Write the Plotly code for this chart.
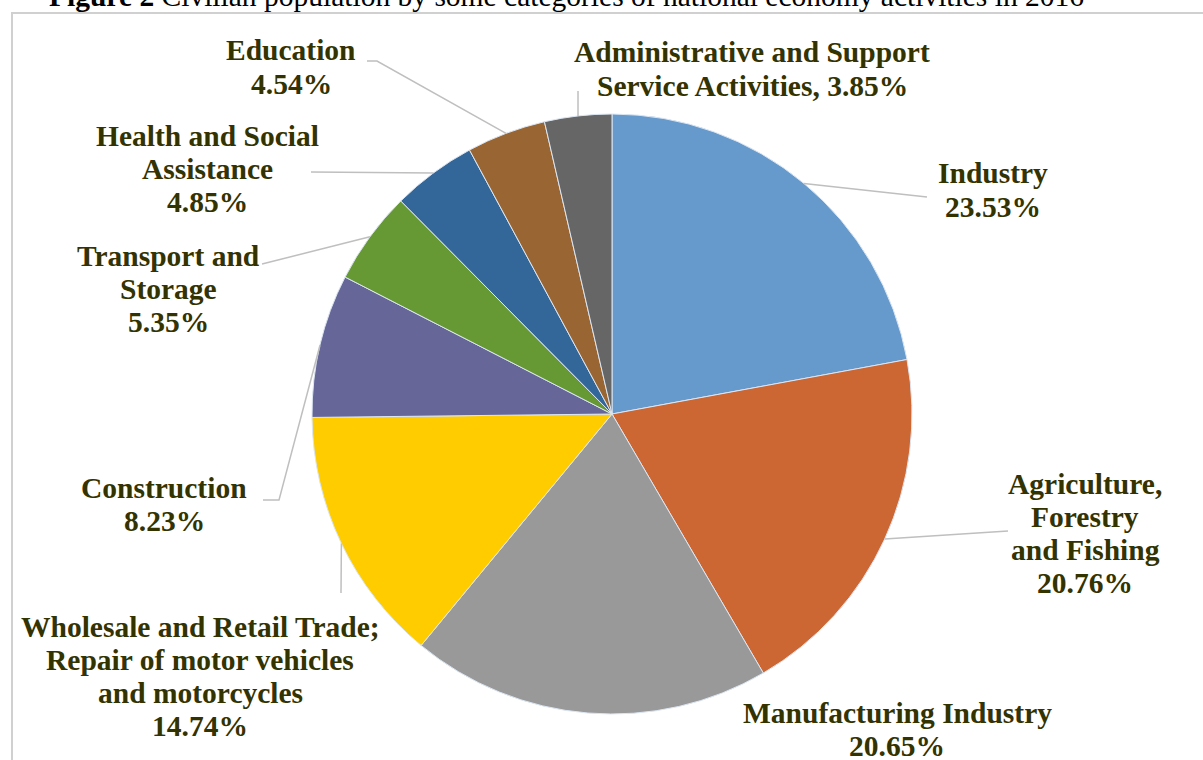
import math
import plotly.graph_objects as go

# Civilian population by activity, 2016 (%)
categories = [
    "Industry",
    "Agriculture, Forestry and Fishing",
    "Manufacturing Industry",
    "Wholesale and Retail Trade; Repair of motor vehicles and motorcycles",
    "Construction",
    "Transport and Storage",
    "Health and Social Assistance",
    "Education",
    "Administrative and Support Service Activities",
]
shares = [23.53, 20.76, 20.65, 14.74, 8.23, 5.35, 4.85, 4.54, 3.85]
label_lines = [
    ["Industry", "{v}%"],
    ["Agriculture,", "Forestry", "and Fishing", "{v}%"],
    ["Manufacturing Industry", "{v}%"],
    ["Wholesale and Retail Trade;", "Repair of motor vehicles", "and motorcycles", "{v}%"],
    ["Construction", "{v}%"],
    ["Transport and", "Storage", "{v}%"],
    ["Health and Social", "Assistance", "{v}%"],
    ["Education", "{v}%"],
    ["Administrative and Support", "Service Activities, {v}%"],
]
colors = ["#6699CC", "#CC6633", "#999999", "#FFCC00", "#666699",
          "#669933", "#336699", "#996633", "#666666"]

W, H = 1203, 760
CX, CY, R = 612, 414, 300  # pie centre and radius in pixels
LINE_GAP = 33              # spacing between label lines in pixels
LABEL_SIZE = 29.5

# label block centres (pixels)
label_pos = [(993, 190), (1085, 533), (897, 729), (200, 676), (164, 504),
             (168, 289), (207, 169), (291, 67), (752, 69)]
# leader line routes: points from the label towards the pie edge
leader_routes = [
    [(927, 197)],
    [(1008, 531)],
    None,
    [(341, 593)],
    [(263, 500), (279, 500)],
    [(262, 264)],
    [(311, 172)],
    [(367, 61), (377, 61)],
    [(578, 91)],
]


def px(x):
    return x / W


def py(y):
    return 1 - y / H


fig = go.Figure(go.Pie(
    labels=categories,
    values=shares,
    sort=False,
    direction="clockwise",
    rotation=0,
    textinfo="none",
    hoverinfo="label+value",
    marker=dict(colors=colors, line=dict(color="#DCE6F2", width=1)),
    domain=dict(x=[px(CX - R), px(CX + R)], y=[py(CY + R), py(CY - R)]),
    showlegend=False,
))

total = sum(shares)
shapes = []
cum = 0.0
for v, route in zip(shares, leader_routes):
    theta = (cum + v / 2) / total * 2 * math.pi
    cum += v
    if route is None:
        continue
    ex = CX + R * math.sin(theta)
    ey = CY - R * math.cos(theta)
    pts = route + [(ex, ey)]
    path = "M " + " L ".join(f"{px(x):.5f},{py(y):.5f}" for x, y in pts)
    shapes.append(dict(type="path", xref="paper", yref="paper", path=path,
                       line=dict(color="#BFBFBF", width=1.5)))

# chart frame
shapes.append(dict(type="rect", xref="paper", yref="paper",
                   x0=px(12), y0=py(770), x1=px(1215), y1=py(13),
                   line=dict(color="#D0D0D0", width=2), layer="below"))

annotations = []
for lines, v, (x, y) in zip(label_lines, shares, label_pos):
    n = len(lines)
    for i, line in enumerate(lines):
        ly = y + (i - (n - 1) / 2) * LINE_GAP
        annotations.append(dict(
            x=px(x), y=py(ly), xref="paper", yref="paper",
            text="<b>" + line.format(v=f"{v:.2f}") + "</b>",
            showarrow=False, align="center",
            xanchor="center", yanchor="middle",
            font=dict(family="Liberation Serif", size=LABEL_SIZE, color="#333300"),
        ))

annotations.append(dict(
    x=px(566), y=py(14), xref="paper", yref="paper",
    text="<b>Figure 2</b> Civilian population by some categories of national economy activities in 2016",
    showarrow=False, xanchor="center", yanchor="bottom",
    font=dict(family="Liberation Serif", size=29.5, color="#000000"),
))

fig.update_layout(
    width=W, height=H,
    margin=dict(l=0, r=0, t=0, b=0),
    paper_bgcolor="white",
    plot_bgcolor="white",
    shapes=shapes,
    annotations=annotations,
)

fig.write_html("out.html")
